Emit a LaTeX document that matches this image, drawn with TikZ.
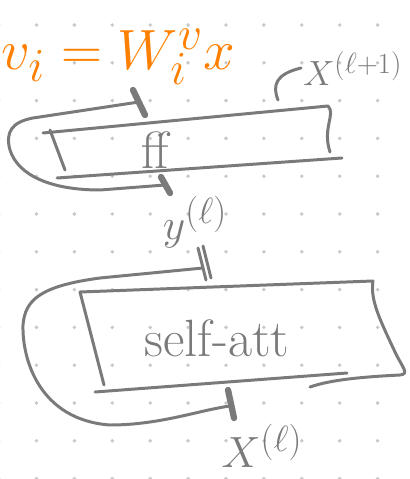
\documentclass[tikz,border=0pt]{standalone}
\usepackage{xcolor}
\usepackage{tikz}
\usetikzlibrary{positioning,arrows.meta}
\definecolor{pen}{RGB}{122,122,122}
\definecolor{hilite}{RGB}{255,128,0}
\definecolor{griddot}{RGB}{200,200,200}

\begin{document}
\begin{tikzpicture}[x=0.02cm, y=-0.02cm,
  stroke/.style={draw=pen, line width=1.7pt, line cap=round, line join=round},
  tick/.style={draw=pen, line width=3.6pt, line cap=round},
  label/.style={text=pen, font=\Huge, inner sep=0pt},
  blocktext/.style={text=pen, font=\Huge, scale=1.2, inner sep=0pt},
  formula/.style={text=hilite, font=\Huge, scale=1.3, inner sep=0pt},
]
\useasboundingbox (0,0) rectangle (409,479);
\foreach \i in {0,...,10}
  \foreach \j in {0,...,12}
    \fill[griddot] ({-1.4+37.9*\i},{25+37.8*\j}) circle (1.1pt);

\node[formula, anchor=base west] (vi) at (1,70) {$v_i = W_i^v x$};

\node[blocktext] (ff) at (155,150) {ff};
\node[blocktext] (att) at (217,338) {self-att};
\node[label, scale=0.8, anchor=base west] (xout) at (303,86) {$X^{(\ell+1)}$};
\node[label] (ylab) at (195,222) {$y^{(\ell)}$};
\node[label] (xin) at (262,446) {$X^{(\ell)}$};

\coordinate (ffout) at (139,102);
\coordinate (ffin) at (165,185);
\coordinate (attout) at (203,268);
\coordinate (attin) at (230,406);
\coordinate (ffexit) at (278,100);
\coordinate (xhook) at (301,68);

% ff block
\draw[stroke] (43,133) -- (328,106) .. controls (336,114) and (322,128) .. (330,152);
\draw[stroke] (57,178) -- (342,158);
\draw[stroke] (50,130) -- (65,170);

% self-att block
\draw[stroke] (80,292) -- (373,281) .. controls (370,300) and (380,320) .. (395,352)
  .. controls (402,367) and (410,374) .. (400,375) .. controls (360,377) and (330,380) .. (310,387);
\draw[stroke] (95,392) -- (347,373);
\draw[stroke] (80,292) -- (104,385);

% residual paths
\draw[stroke] (ffout) -- (33,118) .. controls (12,122) and (5,132) .. (10,150)
  .. controls (18,175) and (50,190) .. (100,190) -- (ffin);
\draw[tick] (133,90) -- (145,115);
\draw[tick] (161,177) -- (170,193);

\draw[stroke] (attout) -- (100,278) .. controls (40,286) and (25,300) .. (23,325)
  .. controls (22,360) and (40,420) .. (110,425) .. controls (160,425) and (200,410) .. (attin);
\draw[stroke] (198,248) -- (206,280);
\draw[stroke] (203,246) -- (211,278);
\draw[tick] (228,390) -- (234,418);

\draw[stroke] (ffexit) .. controls (272,85) and (276,74) .. (xhook);
\end{tikzpicture}
\end{document}
